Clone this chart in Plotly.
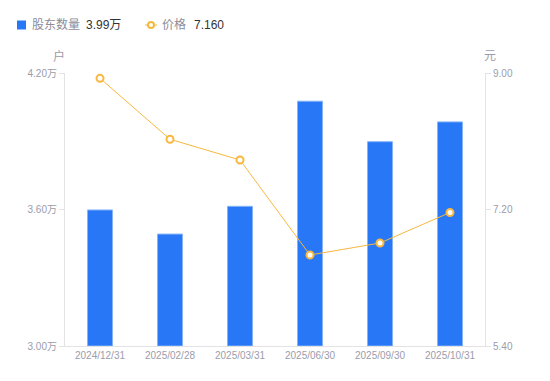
import plotly.graph_objects as go

categories = ["2024/12/31", "2025/02/28", "2025/03/31", "2025/06/30", "2025/09/30", "2025/10/31"]
holders = [3.598, 3.492, 3.614, 4.076, 3.898, 3.985]  # 万户
prices = [8.93, 8.126, 7.853, 6.60, 6.758, 7.16]
left_ticks = [3.00, 3.60, 4.20]
left_labels = ["3.00万", "3.60万", "4.20万"]
right_ticks = [5.40, 7.20, 9.00]
right_labels = ["5.40", "7.20", "9.00"]
legend_names = ["股东数量", "价格"]
legend_values = ["3.99万", "7.160"]

FONT = "Liberation Sans, Arial, Noto Sans CJK SC, sans-serif"
TICKFONT = FONT
GRAY = "#9b9cab"
AXIS = "#e3e3e6"
BLUE = "#2777f6"
ORANGE = "#f8b83e"

W, H = 550, 381
L, R, T, B = 65, 65, 73, 35
PW, PH = W - L - R, H - T - B


def px(x):
    return (x - L) / PW


def py(y):
    return (H - B - y) / PH


fig = go.Figure()
fig.add_trace(go.Bar(
    x=categories, y=[h - 3.0 for h in holders], base=3.0,
    name=legend_names[0],
    marker=dict(color=BLUE, line=dict(color="#85b3fa", width=1)),
    yaxis="y", showlegend=False,
))
fig.add_trace(go.Scatter(
    x=categories, y=prices, mode="lines+markers",
    name=legend_names[1],
    line=dict(color=ORANGE, width=1),
    marker=dict(symbol="circle", size=7, color="#ffffff", line=dict(color=ORANGE, width=2)),
    yaxis="y2", showlegend=False,
))

annotations = []
for txt, x0 in [("户", 59), ("元", 490)]:
    annotations.append(dict(text=txt, xref="paper", yref="paper", x=px(x0), y=py(56),
                            showarrow=False, font=dict(size=12, color=GRAY, family=FONT),
                            xanchor="center", yanchor="middle"))
# legend texts
for txt, x0, col in [(legend_names[0], 31, "#8c8d99"), (legend_values[0], 85, "#333333"),
                     (legend_names[1], 161, "#8c8d99"), (legend_values[1], 193, "#333333")]:
    annotations.append(dict(text=txt, xref="paper", yref="paper", x=px(x0), y=py(25),
                            showarrow=False, font=dict(size=12, color=col, family=FONT),
                            xanchor="left", yanchor="middle", xshift=-1))

shapes = [
    dict(type="rect", xref="paper", yref="paper", x0=px(17), x1=px(26), y0=py(29.5), y1=py(20.5),
         fillcolor=BLUE, line=dict(width=0)),
    dict(type="line", xref="paper", yref="paper", x0=px(145), x1=px(157), y0=py(25), y1=py(25),
         line=dict(color=ORANGE, width=1)),
    dict(type="circle", xref="paper", yref="paper", x0=px(148), x1=px(154), y0=py(28), y1=py(22),
         fillcolor="white", line=dict(color=ORANGE, width=2)),
]

fig.update_layout(
    width=W, height=H,
    margin=dict(l=L, r=R, t=T, b=B, autoexpand=False),
    paper_bgcolor="white", plot_bgcolor="white",
    font=dict(family=FONT, size=10, color=GRAY),
    bargap=0.643,
    showlegend=False,
    xaxis=dict(showline=True, linecolor=AXIS, linewidth=1, showgrid=False, ticks="",
               tickfont=dict(size=10, color=GRAY, family=TICKFONT), fixedrange=True,
               automargin=False),
    yaxis=dict(range=[3.0, 4.2], tickvals=left_ticks, ticktext=left_labels,
               showline=True, linecolor=AXIS, linewidth=1, showgrid=False, zeroline=False,
               ticks="outside", ticklen=5, tickcolor=AXIS, automargin=False,
               tickfont=dict(size=10, color=GRAY, family=TICKFONT)),
    yaxis2=dict(range=[5.4, 9.0], tickvals=right_ticks, ticktext=right_labels, overlaying="y",
                side="right", showline=True, linecolor=AXIS, linewidth=1, showgrid=False,
                zeroline=False, ticks="outside", ticklen=5, tickcolor=AXIS, automargin=False,
                tickfont=dict(size=10, color=GRAY, family=TICKFONT)),
    annotations=annotations,
    shapes=shapes,
)

fig.write_html("out.html", config={"displayModeBar": False},
               post_script="document.body.style.margin='0px';")
